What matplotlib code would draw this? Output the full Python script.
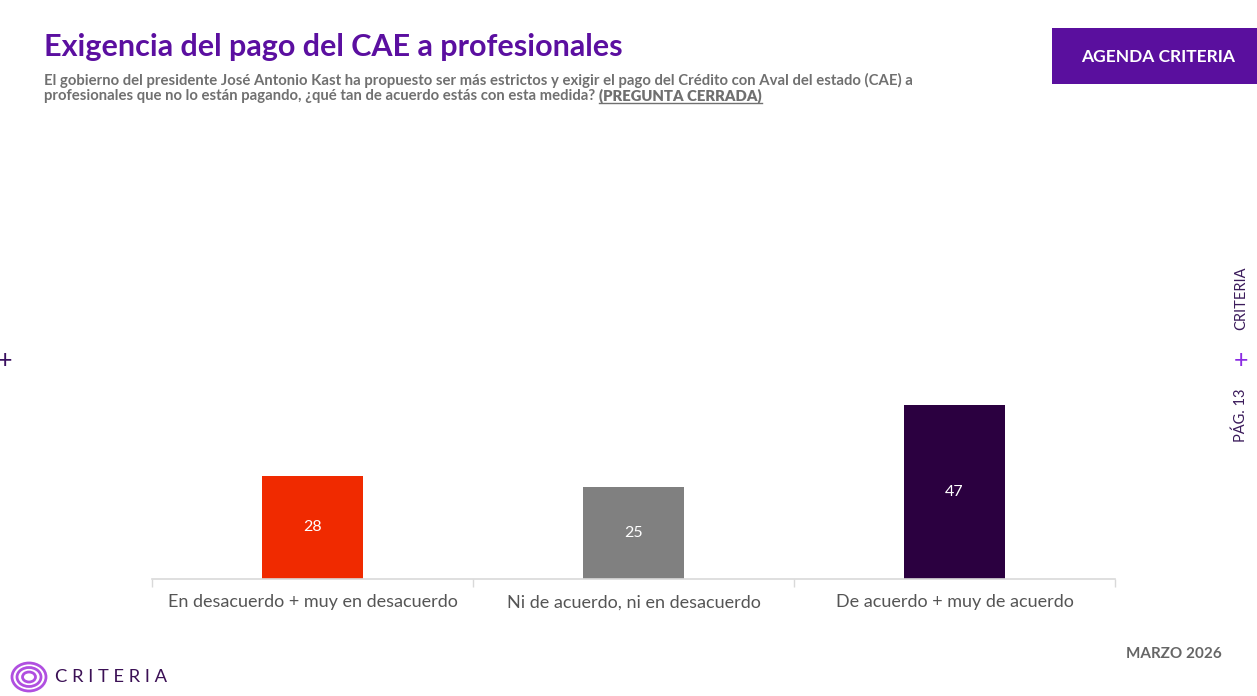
import matplotlib.pyplot as plt
from matplotlib.patches import Rectangle, Ellipse

# data
categories = ["En desacuerdo + muy en desacuerdo",
              "Ni de acuerdo, ni en desacuerdo",
              "De acuerdo + muy de acuerdo"]
values = [28, 25, 47]
bar_colors = ["#F02A00", "#808080", "#2B0040"]

title = "Exigencia del pago del CAE a profesionales"
subtitle_1 = ("El gobierno del presidente José Antonio Kast ha propuesto ser más estrictos y exigir "
              "el pago del Crédito con Aval del estado (CAE) a")
subtitle_2 = "profesionales que no lo están pagando, ¿qué tan de acuerdo estás con esta medida? "

plt.rcParams['font.family'] = ['Lato', 'DejaVu Sans']

W, H = 1257, 696
fig = plt.figure(figsize=(W / 100, H / 100), dpi=100)

def fx(px):
    return px / W

def fy(py):
    return 1 - py / H

ax = fig.add_axes([fx(152), fy(579), fx(1115) - fx(152), fy(140) - fy(579)])
x = list(range(len(categories)))
bars = ax.bar(x, values, width=0.315, color=bar_colors)
ax.set_xlim(-0.5, len(categories) - 0.5)
ax.set_ylim(0, 118.8)

for b, v in zip(bars, values):
    ax.text(b.get_x() + b.get_width() / 2, v / 2, str(v), ha='center', va='center',
            color='white', fontsize=11.5)

ax.set_xticks(x)
ax.set_xticklabels(categories, fontsize=13, color='#555555')
ax.tick_params(axis='x', which='major', length=0, pad=11)
ax.set_xticks([-0.5, 0.5, 1.5, 2.5], minor=True)
ax.tick_params(axis='x', which='minor', length=6, color='#d9d9d9', width=1)
ax.set_yticks([])
for s in ['top', 'right', 'left']:
    ax.spines[s].set_visible(False)
ax.spines['bottom'].set_color('#d9d9d9')
ax.spines['bottom'].set_linewidth(1.2)

# header
fig.text(fx(44), fy(47), title, fontsize=22, fontweight='bold', color='#5B0FA0',
         ha='left', va='center')
fig.text(fx(44), fy(80), subtitle_1, fontsize=10.7, fontweight='bold', color='#707070',
         ha='left', va='center')
t2 = fig.text(fx(44), fy(96), subtitle_2, fontsize=10.7, fontweight='bold', color='#707070',
              ha='left', va='center')
fig.canvas.draw()
bb = t2.get_window_extent()
t3 = fig.text(bb.x1 / W, fy(96), "(PREGUNTA CERRADA)", fontsize=10.7, fontweight='heavy',
              color='#707070', ha='left', va='center')
fig.canvas.draw()
bb3 = t3.get_window_extent()
fig.add_artist(plt.Line2D([bb3.x0 / W, bb3.x1 / W], [fy(103), fy(103)], color='#707070', lw=1))

# badge
fig.add_artist(Rectangle((fx(1052), fy(84)), fx(205), fy(28) - fy(84),
                         transform=fig.transFigure, color='#5A0F9E', lw=0))
fig.text(fx(1158), fy(57), "AGENDA CRITERIA", fontsize=12.5, fontweight='bold',
         color='white', ha='center', va='center')

# side markers
fig.text(fx(1241), fy(298), "CRITERIA", rotation=90, fontsize=10.5, color='#3a1a5a',
         ha='center', va='center')
fig.text(fx(1241), fy(361), "+", fontsize=18, color='#8a2be2', ha='center', va='center')
fig.text(fx(1241), fy(415), "PÁG. 13", rotation=90, fontsize=10.5, color='#3a1a5a',
         ha='center', va='center')
fig.text(fx(5), fy(361), "+", fontsize=18, color='#3a1060', ha='center', va='center')

# footer
fig.text(fx(1222), fy(654), "MARZO 2026", fontsize=11, fontweight='bold', color='#666666',
         ha='right', va='center')
for rw, rh in [(34, 28), (24, 19), (13, 10)]:
    fig.add_artist(Ellipse((fx(29), fy(677)), fx(rw), fy(0) - fy(rh),
                           transform=fig.transFigure, fill=False, ec='#b04fe0', lw=2))
fig.text(fx(55), fy(677), "C R I T E R I A", fontsize=13.2, color='#3b1055',
         ha='left', va='center')

fig.savefig("out.png", dpi=100)
